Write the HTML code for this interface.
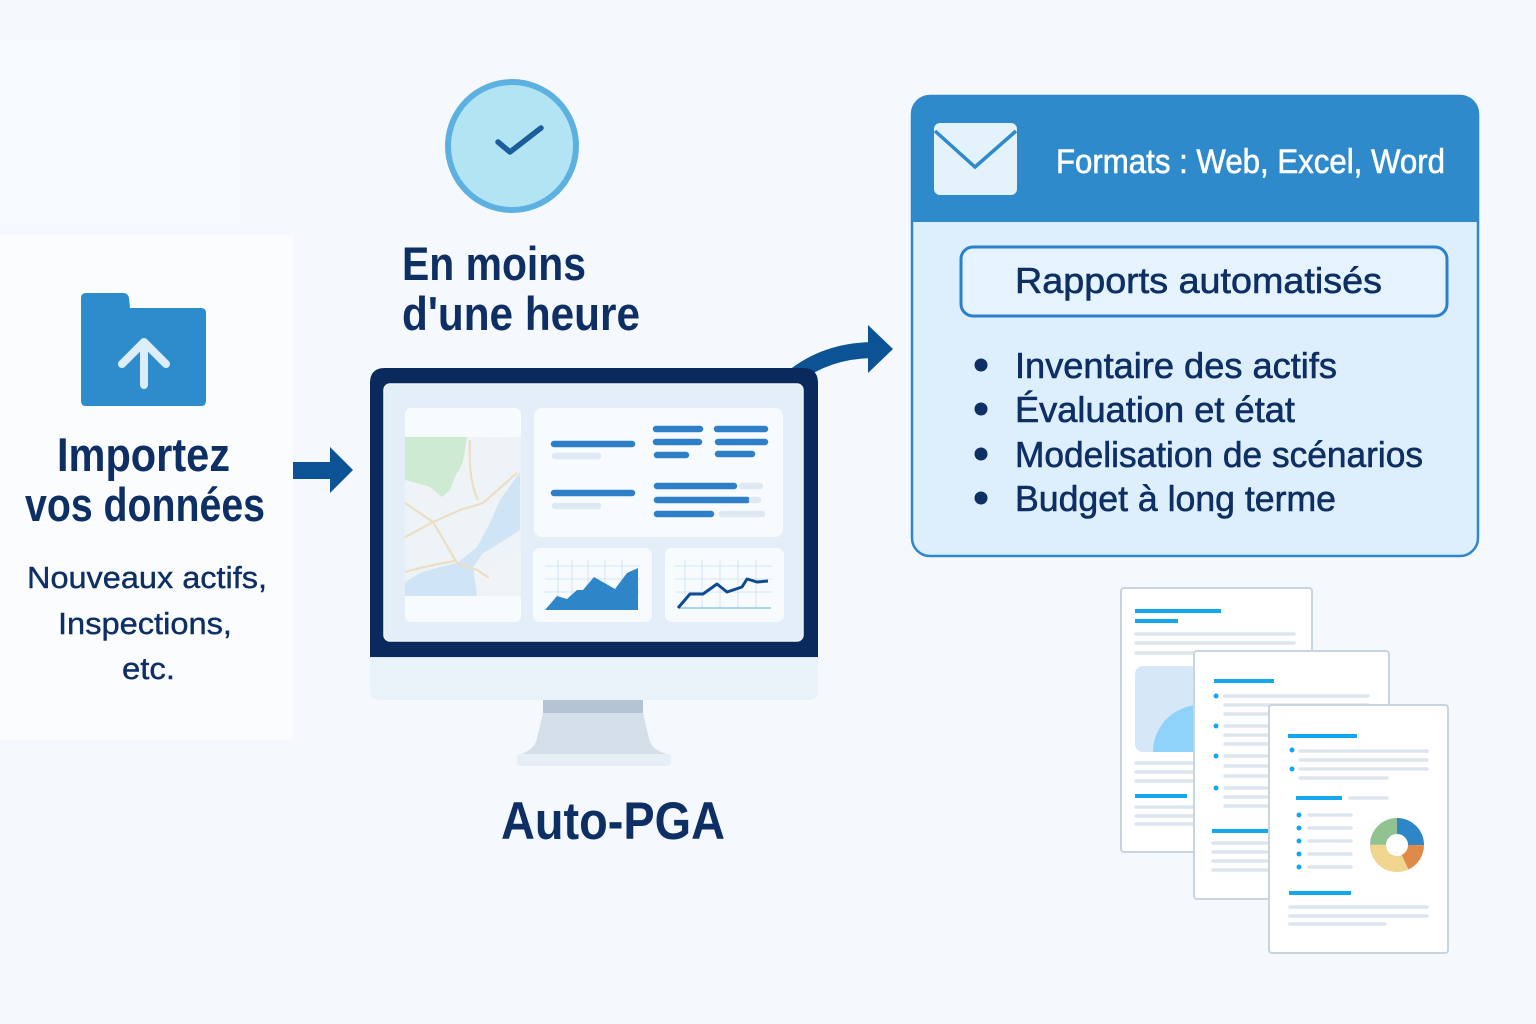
<!DOCTYPE html>
<html><head><meta charset="utf-8"><style>
html,body{margin:0;padding:0;background:#f5f9fd;}
svg{display:block;}
text{font-family:"Liberation Sans",sans-serif;}
</style></head><body>
<svg width="1536" height="1024" viewBox="0 0 1536 1024" xmlns="http://www.w3.org/2000/svg">
<rect x="0" y="0" width="1536" height="1024" fill="#f5f9fd"/>
<rect x="0" y="235" width="293" height="505" fill="#fafcfe"/>
<rect x="0" y="40" width="240" height="190" fill="#f7fafd"/>

<!-- check circle -->
<circle cx="512" cy="146" r="64" fill="#b2e4f4" stroke="#5db1e0" stroke-width="6"/>
<path d="M498,142 L510,152 L541,128" fill="none" stroke="#1c5d9c" stroke-width="5.5" stroke-linecap="round" stroke-linejoin="round"/>

<text x="402" y="280" font-size="47" font-weight="700" fill="#0e2f63" textLength="184" lengthAdjust="spacingAndGlyphs">En moins</text>
<text x="402" y="330" font-size="47" font-weight="700" fill="#0e2f63" textLength="238" lengthAdjust="spacingAndGlyphs">d'une heure</text>

<!-- folder -->
<path d="M81,298 Q81,293 86,293 L123,293 Q128,293 129,298 L130,308 L201,308 Q206,308 206,313 L206,401 Q206,406 201,406 L86,406 Q81,406 81,401 Z" fill="#2e8bcc"/>
<path d="M144,385 L144,344 M122,364 L144,342 L166,364" fill="none" stroke="#dceefa" stroke-width="8" stroke-linecap="round" stroke-linejoin="round"/>

<text x="57" y="471" font-size="47" font-weight="700" fill="#0e2f63" textLength="173" lengthAdjust="spacingAndGlyphs">Importez</text>
<text x="25" y="521" font-size="47" font-weight="700" fill="#0e2f63" textLength="240" lengthAdjust="spacingAndGlyphs">vos données</text>
<g fill="#0e2f63" stroke="#0e2f63" stroke-width="0.4" font-size="31">
<text x="27" y="588" textLength="240" lengthAdjust="spacingAndGlyphs">Nouveaux actifs,</text>
<text x="58" y="634" textLength="174" lengthAdjust="spacingAndGlyphs">Inspections,</text>
<text x="122" y="679" textLength="53" lengthAdjust="spacingAndGlyphs">etc.</text>
</g>

<!-- small arrow -->
<rect x="293" y="462" width="38" height="17" fill="#0b5394"/>
<polygon points="330,447 353,470 330,493" fill="#0b5394"/>

<!-- curved arrow -->
<path d="M792,378 Q825,351 872,350" fill="none" stroke="#0b5394" stroke-width="16"/>
<polygon points="868,325 893,349 868,373" fill="#0b5394"/>

<!-- monitor stand -->
<rect x="543" y="698" width="100" height="16" fill="#b5c4d4"/>
<path d="M543,713 L643,713 L650,742 Q655,752 671,755 L517,755 Q531,752 536,742 Z" fill="#d5dfe9"/>
<rect x="517" y="754" width="154" height="12" rx="3" fill="#e7eef5"/>
<!-- chin -->
<path d="M370,655 L818,655 L818,690 Q818,700 808,700 L380,700 Q370,700 370,690 Z" fill="#e9f1f9"/>
<rect x="370" y="655" width="448" height="3" fill="#dfe8f2"/>
<!-- bezel -->
<path d="M385,368 L803,368 Q818,368 818,383 L818,657 L370,657 L370,383 Q370,368 385,368 Z" fill="#0a2a5e"/>
<rect x="384" y="384" width="419" height="257" rx="6" fill="#e3eef9" stroke="#f0f6fc" stroke-width="1.5"/>

<!-- map panel -->
<rect x="405" y="408" width="116" height="214" rx="6" fill="#f8fbfe"/>
<rect x="405" y="437" width="116" height="159" fill="#eef3f7"/>
<polygon points="405,437 467,437 463,462 455,477 450,490 442,497 430,487 413,482 405,480" fill="#cfead2"/>
<polygon points="405,582 420,573 440,567 457,563 477,547 490,523 500,500 520,472 520,530 500,543 483,553 473,567 477,596 405,596" fill="#cfe4f4"/>
<g fill="none" stroke="#ebdfc3" stroke-width="2.2">
<path d="M405,503 L433,522 L457,563 L477,570 L507,590"/>
<path d="M405,537 L433,522 L460,510 L483,503 L517,473"/>
<path d="M405,572 Q430,565 455,561"/>
<path d="M470,440 Q468,480 478,500"/>
</g>
<polygon points="483,585 500,565 521,552 521,596 490,596" fill="#f1f4f6"/>

<!-- top right panel -->
<rect x="534" y="408" width="249" height="129" rx="8" fill="#f8fbfe"/>
<g stroke-linecap="round" stroke-width="6.5" fill="none">
<g stroke="#2e7fc8">
<line x1="554" y1="444" x2="632" y2="444"/>
<line x1="554" y1="493" x2="632" y2="493"/>
<line x1="656" y1="429" x2="700" y2="429"/>
<line x1="656" y1="442" x2="699" y2="442"/>
<line x1="657" y1="455" x2="686" y2="455"/>
<line x1="717" y1="429" x2="765" y2="429"/>
<line x1="718" y1="442" x2="765" y2="442"/>
<line x1="718" y1="454" x2="752" y2="454"/>
<line x1="657" y1="486" x2="734" y2="486"/>
<line x1="657" y1="500" x2="747" y2="500"/>
<line x1="657" y1="514" x2="711" y2="514"/>
</g>
<g stroke="#dfe9f3">
<line x1="555" y1="456" x2="598" y2="456"/>
<line x1="555" y1="506" x2="598" y2="506"/>
<line x1="742" y1="486" x2="760" y2="486"/>
<line x1="752" y1="500" x2="758" y2="500"/>
<line x1="722" y1="514" x2="762" y2="514"/>
</g>
</g>

<!-- chart panel 1 -->
<rect x="533" y="548" width="119" height="74" rx="7" fill="#f8fbfe"/>
<g stroke="#d3e5f5" stroke-width="1">
<line x1="558" y1="560" x2="558" y2="610"/><line x1="572" y1="560" x2="572" y2="610"/><line x1="588" y1="560" x2="588" y2="610"/><line x1="605" y1="560" x2="605" y2="610"/><line x1="622" y1="560" x2="622" y2="610"/>
<line x1="545" y1="566" x2="640" y2="566"/><line x1="545" y1="579" x2="640" y2="579"/><line x1="545" y1="592" x2="640" y2="592"/>
</g>
<polygon points="545,610 557,596 567,599 577,590 583,590 594,577 615,589 627,573 638,568 638,610" fill="#2e86c8"/>

<!-- chart panel 2 -->
<rect x="665" y="548" width="119" height="74" rx="7" fill="#f8fbfe"/>
<g stroke="#d3e5f5" stroke-width="1">
<line x1="685" y1="560" x2="685" y2="608"/><line x1="702" y1="560" x2="702" y2="608"/><line x1="720" y1="560" x2="720" y2="608"/><line x1="738" y1="560" x2="738" y2="608"/><line x1="756" y1="560" x2="756" y2="608"/>
<line x1="675" y1="566" x2="772" y2="566"/><line x1="675" y1="579" x2="772" y2="579"/><line x1="675" y1="592" x2="772" y2="592"/>
</g>
<line x1="680" y1="608" x2="771" y2="608" stroke="#8ecbf0" stroke-width="1.5"/>
<polyline points="678,608 690,594 703,594 717,584 727,592 742,587 747,579 757,582 768,581" fill="none" stroke="#0d4a8f" stroke-width="3" stroke-linejoin="round"/>

<text x="501" y="839" font-size="53" font-weight="700" fill="#0e2f63" textLength="224" lengthAdjust="spacingAndGlyphs">Auto-PGA</text>

<!-- right card -->
<rect x="912" y="96" width="566" height="460" rx="18" fill="#ddeefc" stroke="#2f86cc" stroke-width="2.5"/>
<path d="M912,222 L912,114 Q912,96 930,96 L1460,96 Q1478,96 1478,114 L1478,222 Z" fill="#2f8acb"/>
<rect x="934" y="123" width="83" height="72" rx="6" fill="#e4f2fc"/>
<path d="M935,131 L975,167 L1016,131" fill="none" stroke="#2f8acb" stroke-width="3.5"/>
<text x="1056" y="173" font-size="34" fill="#ffffff" stroke="#ffffff" stroke-width="0.6" textLength="389" lengthAdjust="spacingAndGlyphs">Formats : Web, Excel, Word</text>

<rect x="961" y="247" width="486" height="69" rx="12" fill="#e4f3fe" stroke="#2b80c9" stroke-width="3"/>
<text x="1015" y="293" font-size="36" fill="#0e2f63" stroke="#0e2f63" stroke-width="0.6" textLength="367" lengthAdjust="spacingAndGlyphs">Rapports automatisés</text>

<g fill="#0e2f63">
<circle cx="981" cy="365" r="6.5"/>
<circle cx="981" cy="409" r="6.5"/>
<circle cx="981" cy="454" r="6.5"/>
<circle cx="981" cy="498" r="6.5"/>
</g>
<g fill="#0e2f63" stroke="#0e2f63" stroke-width="0.6" font-size="36">
<text x="1015" y="378" textLength="322" lengthAdjust="spacingAndGlyphs">Inventaire des actifs</text>
<text x="1015" y="422" textLength="280" lengthAdjust="spacingAndGlyphs">Évaluation et état</text>
<text x="1015" y="467" textLength="408" lengthAdjust="spacingAndGlyphs">Modelisation de scénarios</text>
<text x="1015" y="511" textLength="321" lengthAdjust="spacingAndGlyphs">Budget à long terme</text>
</g>

<!-- documents -->
<g>
<rect x="1121" y="588" width="191" height="264" rx="3" fill="#ffffff" stroke="#c8d4e0" stroke-width="2"/>
<rect x="1135" y="609" width="86" height="4" fill="#12a7ef"/>
<rect x="1135" y="619" width="43" height="4" fill="#12a7ef"/>
<g stroke="#dde5ee" stroke-width="3.5" stroke-linecap="round">
<line x1="1136" y1="634" x2="1294" y2="634"/><line x1="1136" y1="643" x2="1294" y2="643"/><line x1="1136" y1="653" x2="1294" y2="653"/>
<line x1="1136" y1="763" x2="1294" y2="763"/><line x1="1136" y1="772" x2="1294" y2="772"/><line x1="1136" y1="781" x2="1294" y2="781"/>
<line x1="1136" y1="807" x2="1294" y2="807"/><line x1="1136" y1="816" x2="1294" y2="816"/><line x1="1136" y1="824" x2="1294" y2="824"/>
</g>
<rect x="1135" y="666" width="120" height="86" rx="8" fill="#d6e8f7"/>
<path d="M1153,752 A47,47 0 0 1 1200,705 L1200,752 Z" fill="#8fd3fa"/>
<rect x="1135" y="794" width="52" height="4" fill="#12a7ef"/>
</g>
<g>
<rect x="1194" y="651" width="195" height="248" rx="3" fill="#ffffff" stroke="#c8d4e0" stroke-width="2"/>
<rect x="1214" y="679" width="60" height="4" fill="#12a7ef"/>
<g fill="#12a7ef"><circle cx="1216" cy="696" r="2.5"/><circle cx="1216" cy="726" r="2.5"/><circle cx="1216" cy="756" r="2.5"/><circle cx="1216" cy="788" r="2.5"/></g>
<g stroke="#dde5ee" stroke-width="3.5" stroke-linecap="round">
<line x1="1225" y1="696" x2="1368" y2="696"/><line x1="1225" y1="705" x2="1368" y2="705"/><line x1="1225" y1="714" x2="1368" y2="714"/>
<line x1="1225" y1="726" x2="1368" y2="726"/><line x1="1225" y1="735" x2="1368" y2="735"/><line x1="1225" y1="744" x2="1368" y2="744"/>
<line x1="1225" y1="756" x2="1368" y2="756"/><line x1="1225" y1="766" x2="1368" y2="766"/><line x1="1225" y1="776" x2="1368" y2="776"/>
<line x1="1225" y1="788" x2="1368" y2="788"/><line x1="1225" y1="797" x2="1368" y2="797"/><line x1="1225" y1="806" x2="1368" y2="806"/>
<line x1="1213" y1="843" x2="1368" y2="843"/><line x1="1213" y1="852" x2="1368" y2="852"/><line x1="1213" y1="861" x2="1368" y2="861"/><line x1="1213" y1="870" x2="1368" y2="870"/>
</g>
<rect x="1212" y="829" width="58" height="4" fill="#12a7ef"/>
</g>
<g>
<rect x="1269" y="705" width="179" height="248" rx="3" fill="#ffffff" stroke="#c8d4e0" stroke-width="2"/>
<rect x="1288" y="734" width="69" height="4" fill="#12a7ef"/>
<g fill="#12a7ef"><circle cx="1292" cy="750" r="2.5"/><circle cx="1292" cy="769" r="2.5"/>
<circle cx="1299" cy="815" r="2.5"/><circle cx="1299" cy="828" r="2.5"/><circle cx="1299" cy="841" r="2.5"/><circle cx="1299" cy="854" r="2.5"/><circle cx="1299" cy="867" r="2.5"/></g>
<g stroke="#dde5ee" stroke-width="3.5" stroke-linecap="round">
<line x1="1300" y1="751" x2="1427" y2="751"/><line x1="1300" y1="760" x2="1427" y2="760"/><line x1="1300" y1="769" x2="1427" y2="769"/><line x1="1300" y1="778" x2="1387" y2="778"/>
<line x1="1350" y1="798" x2="1387" y2="798"/>
<line x1="1309" y1="815" x2="1351" y2="815"/><line x1="1309" y1="828" x2="1351" y2="828"/><line x1="1309" y1="841" x2="1351" y2="841"/><line x1="1309" y1="854" x2="1351" y2="854"/><line x1="1309" y1="867" x2="1351" y2="867"/>
<line x1="1290" y1="907" x2="1427" y2="907"/><line x1="1290" y1="916" x2="1427" y2="916"/><line x1="1290" y1="924" x2="1385" y2="924"/>
</g>
<rect x="1296" y="796" width="46" height="4" fill="#12a7ef"/>
<rect x="1289" y="891" width="62" height="4" fill="#12a7ef"/>
<!-- donut -->
<g transform="rotate(-90 1397 845)" fill="none" stroke-width="16">
<circle cx="1397" cy="845" r="19" stroke="#2e86c8" stroke-dasharray="29.85 89.55" stroke-dashoffset="0"/>
<circle cx="1397" cy="845" r="19" stroke="#e08a4a" stroke-dasharray="21.5 97.9" stroke-dashoffset="-29.85"/>
<circle cx="1397" cy="845" r="19" stroke="#f0d58e" stroke-dasharray="38.2 81.2" stroke-dashoffset="-51.35"/>
<circle cx="1397" cy="845" r="19" stroke="#93c291" stroke-dasharray="29.85 89.55" stroke-dashoffset="-89.55"/>
</g>
</g>
</svg>
</body></html>
